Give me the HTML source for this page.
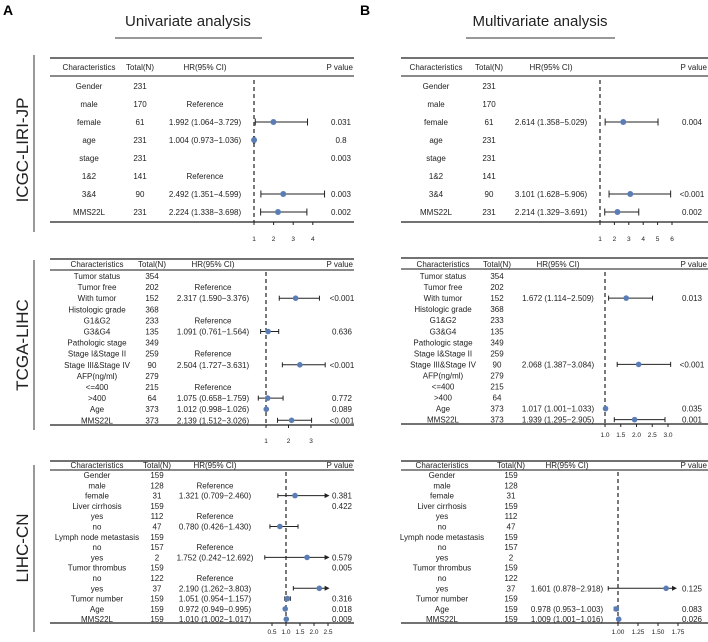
<!DOCTYPE html>
<html><head><meta charset="utf-8"><style>
html,body{margin:0;padding:0;background:#fff}
svg text{font-family:"Liberation Sans",Arial,sans-serif}
</style></head><body>
<svg id="fig" width="708" height="637" viewBox="0 0 708 637" xmlns="http://www.w3.org/2000/svg">
<text x="3" y="15" font-size="14" font-weight="bold">A</text>
<text x="188" y="26" font-size="15" text-anchor="middle" fill="#222">Univariate analysis</text>
<line x1="115" y1="38" x2="262" y2="38" stroke="#333" stroke-width="1"/>
<text x="360" y="15" font-size="14" font-weight="bold">B</text>
<text x="540" y="26" font-size="15" text-anchor="middle" fill="#222">Multivariate analysis</text>
<line x1="466" y1="38" x2="615" y2="38" stroke="#333" stroke-width="1"/>
<text transform="translate(28,150) rotate(-90)" font-size="17" text-anchor="middle" fill="#222">ICGC-LIRI-JP</text>
<line x1="34" y1="55" x2="34" y2="232" stroke="#333"/>
<text transform="translate(28,345) rotate(-90)" font-size="17" text-anchor="middle" fill="#222">TCGA-LIHC</text>
<line x1="34" y1="260" x2="34" y2="430" stroke="#333"/>
<text transform="translate(28,548) rotate(-90)" font-size="17" text-anchor="middle" fill="#222">LIHC-CN</text>
<line x1="34" y1="465" x2="34" y2="632" stroke="#333"/>
</svg>
<script>
// ICGC univariate
const icgcLabels = ["Gender","male","female","age","stage","1&2","3&4","MMS22L"];
const icgcTotals = ["231","170","61","231","231","141","90","231"];
const icgcUniHrText = ["","Reference","1.992 (1.064−3.729)","1.004 (0.973−1.036)","","Reference","2.492 (1.351−4.599)","2.224 (1.338−3.698)"];
const icgcUniP = ["","","0.031","0.8","0.003","","0.003","0.002"];
const icgcUniHr = [null,null,1.992,1.004,null,null,2.492,2.224];
const icgcUniLo = [null,null,1.064,0.973,null,null,1.351,1.338];
const icgcUniHi = [null,null,3.729,1.036,null,null,4.599,3.698];
const icgcUniTicks = [1,2,3,4];
// ICGC multivariate
const icgcMulHrText = ["","","2.614 (1.358−5.029)","","","","3.101 (1.628−5.906)","2.214 (1.329−3.691)"];
const icgcMulP = ["","","0.004","","","","<0.001","0.002"];
const icgcMulHr = [null,null,2.614,null,null,null,3.101,2.214];
const icgcMulLo = [null,null,1.358,null,null,null,1.628,1.329];
const icgcMulHi = [null,null,5.029,null,null,null,5.906,3.691];
const icgcMulTicks = [1,2,3,4,5,6];
// TCGA
const tcgaLabels = ["Tumor status","Tumor free","With tumor","Histologic grade","G1&G2","G3&G4","Pathologic stage","Stage I&Stage II","Stage III&Stage IV","AFP(ng/ml)","<=400",">400","Age","MMS22L"];
const tcgaTotals = ["354","202","152","368","233","135","349","259","90","279","215","64","373","373"];
const tcgaUniHrText = ["","Reference","2.317 (1.590−3.376)","","Reference","1.091 (0.761−1.564)","","Reference","2.504 (1.727−3.631)","","Reference","1.075 (0.658−1.759)","1.012 (0.998−1.026)","2.139 (1.512−3.026)"];
const tcgaUniP = ["","","<0.001","","","0.636","","","<0.001","","","0.772","0.089","<0.001"];
const tcgaUniHr = [null,null,2.317,null,null,1.091,null,null,2.504,null,null,1.075,1.012,2.139];
const tcgaUniLo = [null,null,1.590,null,null,0.761,null,null,1.727,null,null,0.658,0.998,1.512];
const tcgaUniHi = [null,null,3.376,null,null,1.564,null,null,3.631,null,null,1.759,1.026,3.026];
const tcgaUniTicks = [1,2,3];
const tcgaMulHrText = ["","","1.672 (1.114−2.509)","","","","","","2.068 (1.387−3.084)","","","","1.017 (1.001−1.033)","1.939 (1.295−2.905)"];
const tcgaMulP = ["","","0.013","","","","","","<0.001","","","","0.035","0.001"];
const tcgaMulHr = [null,null,1.672,null,null,null,null,null,2.068,null,null,null,1.017,1.939];
const tcgaMulLo = [null,null,1.114,null,null,null,null,null,1.387,null,null,null,1.001,1.295];
const tcgaMulHi = [null,null,2.509,null,null,null,null,null,3.084,null,null,null,1.033,2.905];
const tcgaMulTicks = [1.0,1.5,2.0,2.5,3.0];
// LIHC-CN
const lihcLabels = ["Gender","male","female","Liver cirrhosis","yes","no","Lymph node metastasis","no","yes","Tumor thrombus","no","yes","Tumor number","Age","MMS22L"];
const lihcTotals = ["159","128","31","159","112","47","159","157","2","159","122","37","159","159","159"];
const lihcUniHrText = ["","Reference","1.321 (0.709−2.460)","","Reference","0.780 (0.426−1.430)","","Reference","1.752 (0.242−12.692)","","Reference","2.190 (1.262−3.803)","1.051 (0.954−1.157)","0.972 (0.949−0.995)","1.010 (1.002−1.017)"];
const lihcUniP = ["","","0.381","0.422","","","","","0.579","0.005","","","0.316","0.018","0.009"];
const lihcUniHr = [null,null,1.321,null,null,0.780,null,null,1.752,null,null,2.190,1.051,0.972,1.010];
const lihcUniLo = [null,null,0.709,null,null,0.426,null,null,0.242,null,null,1.262,0.954,0.949,1.002];
const lihcUniHi = [null,null,2.460,null,null,1.430,null,null,12.692,null,null,3.803,1.157,0.995,1.017];
const lihcUniTicks = [0.5,1.0,1.5,2.0,2.5];
const lihcMulHrText = ["","","","","","","","","","","","1.601 (0.878−2.918)","","0.978 (0.953−1.003)","1.009 (1.001−1.016)"];
const lihcMulP = ["","","","","","","","","","","","0.125","","0.083","0.026"];
const lihcMulHr = [null,null,null,null,null,null,null,null,null,null,null,1.601,null,0.978,1.009];
const lihcMulLo = [null,null,null,null,null,null,null,null,null,null,null,0.878,null,0.953,1.001];
const lihcMulHi = [null,null,null,null,null,null,null,null,null,null,null,2.918,null,1.003,1.016];
const lihcMulTicks = [1.00,1.25,1.50,1.75];

const NS = "http://www.w3.org/2000/svg";
const svg = document.getElementById('fig');
function mk(tag, attrs, parent){
  const e = document.createElementNS(NS, tag);
  for (const k in attrs) e.setAttribute(k, attrs[k]);
  (parent || svg).appendChild(e);
  return e;
}
function txt(x,y,s,anchor,size,parent){
  const t = mk('text',{x:x,y:y,'font-size':size,'text-anchor':anchor,fill:'#222'},parent);
  t.textContent = s;
  return t;
}
function panel(name, L, labels, totals, hrText, pText, hr, lo, hi, ticks){
  const g = mk('g',{});
  
  
  const fs = L.fs || 8;
  const X = v => L.px1 + (v - 1) * L.scale;
  const l1 = mk('line',{x1:L.x0,y1:L.yTop,x2:L.x1,y2:L.yTop,stroke:'#444','stroke-width':1.5},g);
  
  
  const l2 = mk('line',{x1:L.x0,y1:L.yHL,x2:L.x1,y2:L.yHL,stroke:'#444','stroke-width':1.2},g);
  
  
  const l3 = mk('line',{x1:L.x0,y1:L.yBot,x2:L.x1,y2:L.yBot,stroke:'#444','stroke-width':1.5},g);
  
  
  const heads = ["Characteristics","Total(N)","HR(95% CI)","P value"];
  heads.forEach((h,i)=>{
    const t = txt(i===3 ? L.x1-1 : L.cols[i], L.yHead+3, h, i===3?'end':'middle', fs, g);
    
    
  });
  const dl = mk('line',{x1:X(1),y1:L.dashTop,x2:X(1),y2:L.yBot,stroke:'#222','stroke-width':1.2,'stroke-dasharray':'4,3'},g);
  
  
  labels.forEach((lab,i)=>{
    const y = L.row0 + i*L.dy;
    const a = txt(L.cols[0], y+3, lab, 'middle', fs, g);
    
    
    const b = txt(L.cols[1], y+3, totals[i], 'middle', fs, g);
    
    
    if (hrText[i]) {
      const c = txt(L.cols[2], y+3, hrText[i], 'middle', fs, g);
      
      
    }
    if (pText[i]) {
      const d = txt(L.cols[3], y+3, pText[i], 'middle', fs, g);
      
      
    }
    if (hr[i] !== null) {
      const loC = Math.max(lo[i], L.clip[0]), hiC = Math.min(hi[i], L.clip[1]);
      const xl = X(loC), xh = X(hiC);
      const w = mk('line',{x1:xl,y1:y,x2:xh,y2:y,stroke:'#222','stroke-width':1},g);
      
      
      const ch = L.cap;
      if (lo[i] >= L.clip[0]) {
        const c1 = mk('line',{x1:xl,y1:y-ch,x2:xl,y2:y+ch,stroke:'#222'},g);
        
        
      }
      if (hi[i] <= L.clip[1]) {
        const c2 = mk('line',{x1:xh,y1:y-ch,x2:xh,y2:y+ch,stroke:'#222'},g);
        
        
      } else {
        const ar = mk('path',{d:`M${xh+3},${y} L${xh-2},${y-2.5} L${xh-2},${y+2.5} Z`,fill:'#222'},g);
        
        
      }
      const p = mk('circle',{cx:X(hr[i]),cy:y,r:L.r,fill:'#5b7db5'},g);
      
      
    }
  });
  ticks.forEach(t=>{
    const tl = mk('line',{x1:X(t),y1:L.yBot,x2:X(t),y2:L.yBot+3,stroke:'#222'},g);
    
    
    const lbl = txt(X(t), L.tickY, t.toFixed(L.dec), 'middle', 6.5, g);
    
    
  });
}
panel('icgc-univariate-forest',{x0:50,x1:354,yTop:58,yHead:67,yHL:76,row0:86,dy:18,yBot:222,cols:[89,140,205,341],px1:254,scale:19.6,dashTop:80,clip:[0.5,6],cap:3.5,r:3,tickY:241,dec:0,fs:8},
  icgcLabels,icgcTotals,icgcUniHrText,icgcUniP,icgcUniHr,icgcUniLo,icgcUniHi,icgcUniTicks);
panel('icgc-multivariate-forest',{x0:401,x1:708,yTop:58,yHead:67,yHL:76,row0:86,dy:18,yBot:222,cols:[436,489,551,692],px1:600,scale:14.4,dashTop:80,clip:[0.5,7],cap:3.5,r:3,tickY:241,dec:0,fs:8},
  icgcLabels,icgcTotals,icgcMulHrText,icgcMulP,icgcMulHr,icgcMulLo,icgcMulHi,icgcMulTicks);
panel('tcga-univariate-forest',{x0:50,x1:354,yTop:259,yHead:264,yHL:270,row0:276,dy:11.1,yBot:425,cols:[97,152,213,342],px1:266,scale:22.5,dashTop:272,clip:[0.3,5],cap:2.5,r:2.8,tickY:443,dec:0,fs:8},
  tcgaLabels,tcgaTotals,tcgaUniHrText,tcgaUniP,tcgaUniHr,tcgaUniLo,tcgaUniHi,tcgaUniTicks);
panel('tcga-multivariate-forest',{x0:401,x1:708,yTop:258,yHead:264,yHL:269,row0:276,dy:11.05,yBot:424,cols:[443,497,558,692],px1:605,scale:31.5,dashTop:272,clip:[0.5,4],cap:2.5,r:2.8,tickY:437,dec:1,fs:8},
  tcgaLabels,tcgaTotals,tcgaMulHrText,tcgaMulP,tcgaMulHr,tcgaMulLo,tcgaMulHi,tcgaMulTicks);
panel('lihc-univariate-forest',{x0:50,x1:354,yTop:461,yHead:465,yHL:470,row0:475,dy:10.3,yBot:623,cols:[97,157,215,342],px1:286,scale:28,dashTop:472,clip:[0.15,2.45],cap:2.2,r:2.8,tickY:634,dec:1,fs:8},
  lihcLabels,lihcTotals,lihcUniHrText,lihcUniP,lihcUniHr,lihcUniLo,lihcUniHi,lihcUniTicks);
panel('lihc-multivariate-forest',{x0:401,x1:708,yTop:461,yHead:465,yHL:470,row0:475,dy:10.3,yBot:623,cols:[442,511,567,692],px1:618,scale:80,dashTop:472,clip:[0.6,1.7],cap:2.2,r:2.8,tickY:634,dec:2,fs:8},
  lihcLabels,lihcTotals,lihcMulHrText,lihcMulP,lihcMulHr,lihcMulLo,lihcMulHi,lihcMulTicks);
</script>
</body></html>
